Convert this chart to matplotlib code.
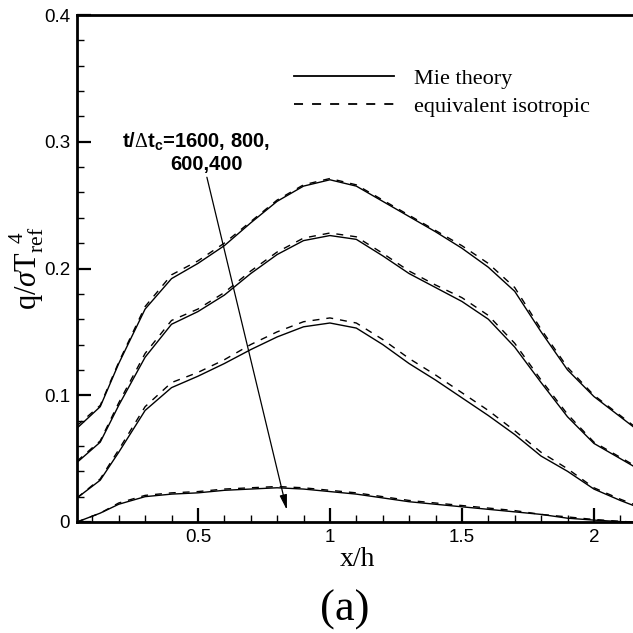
import matplotlib
matplotlib.use("Agg")
import matplotlib.pyplot as plt
from matplotlib.ticker import MultipleLocator

plt.rcParams['mathtext.fontset'] = 'custom'
plt.rcParams['mathtext.rm'] = 'Liberation Serif'
plt.rcParams['mathtext.it'] = 'Liberation Serif:italic'
plt.rcParams['mathtext.sf'] = 'Liberation Sans'
plt.rcParams['mathtext.bf'] = 'Liberation Sans:bold'

x = [0.042, 0.13, 0.2, 0.3, 0.4, 0.5, 0.6, 0.7, 0.8, 0.9, 1.0, 1.1, 1.2, 1.3,
     1.4, 1.5, 1.6, 1.7, 1.8, 1.9, 2.0, 2.1, 2.15]

mie_1600 = [0.074, 0.091, 0.125, 0.168, 0.192, 0.204, 0.218, 0.236, 0.253, 0.265, 0.270, 0.265,
            0.253, 0.241, 0.229, 0.216, 0.201, 0.182, 0.150, 0.120, 0.099, 0.083, 0.075]
iso_1600 = [0.076, 0.092, 0.126, 0.170, 0.195, 0.206, 0.220, 0.237, 0.254, 0.266, 0.271, 0.266,
            0.254, 0.242, 0.230, 0.218, 0.204, 0.185, 0.152, 0.122, 0.100, 0.084, 0.076]

mie_800 = [0.047, 0.063, 0.092, 0.130, 0.156, 0.166, 0.179, 0.196, 0.211, 0.222, 0.226, 0.223,
           0.210, 0.196, 0.185, 0.174, 0.160, 0.138, 0.110, 0.083, 0.062, 0.050, 0.044]
iso_800 = [0.048, 0.064, 0.094, 0.133, 0.159, 0.168, 0.181, 0.198, 0.213, 0.224, 0.228, 0.225,
           0.212, 0.198, 0.187, 0.177, 0.163, 0.141, 0.112, 0.085, 0.063, 0.051, 0.045]

mie_600 = [0.019, 0.033, 0.055, 0.088, 0.106, 0.115, 0.125, 0.136, 0.146, 0.154, 0.157, 0.153,
           0.140, 0.125, 0.112, 0.098, 0.084, 0.069, 0.052, 0.040, 0.026, 0.017, 0.013]
iso_600 = [0.019, 0.034, 0.057, 0.091, 0.110, 0.118, 0.128, 0.140, 0.150, 0.158, 0.161, 0.157,
           0.144, 0.129, 0.116, 0.102, 0.088, 0.072, 0.055, 0.042, 0.027, 0.018, 0.014]

mie_400 = [0.000, 0.007, 0.014, 0.020, 0.022, 0.023, 0.025, 0.026, 0.027, 0.026, 0.024, 0.022,
           0.019, 0.016, 0.014, 0.012, 0.010, 0.008, 0.006, 0.003, 0.0015, 0.0003, 0.000]
iso_400 = [0.000, 0.007, 0.015, 0.021, 0.023, 0.024, 0.026, 0.027, 0.028, 0.027, 0.025, 0.023,
           0.020, 0.017, 0.015, 0.013, 0.011, 0.009, 0.006, 0.004, 0.002, 0.0005, 0.000]

mie_series = [mie_1600, mie_800, mie_600, mie_400]
iso_series = [iso_1600, iso_800, iso_600, iso_400]

x_ticks = [0.5, 1, 1.5, 2]
x_tick_labels = ['0.5', '1', '1.5', '2']
y_ticks = [0, 0.1, 0.2, 0.3, 0.4]
y_tick_labels = ['0', '0.1', '0.2', '0.3', '0.4']

fig = plt.figure(figsize=(6.33, 6.33), dpi=100)
ax = fig.add_axes([77/633, 111/633, 560/633, 507/633])

dash = (0, (5, 5))
for i, (m, s) in enumerate(zip(mie_series, iso_series)):
    ax.plot(x, m, color='black', lw=1.0, label='Mie theory' if i == 0 else None)
    ax.plot(x, s, color='black', lw=1.0, ls=dash,
            label='equivalent isotropic' if i == 0 else None)

ax.set_xlim(0.042, 0.042 + 560/264)
ax.set_ylim(0, 0.4)
ax.xaxis.set_minor_locator(MultipleLocator(0.1))
ax.yaxis.set_minor_locator(MultipleLocator(0.02))
ax.set_xticks(x_ticks)
ax.set_xticklabels(x_tick_labels)
ax.set_yticks(y_ticks)
ax.set_yticklabels(y_tick_labels)
ax.tick_params(which='both', direction='in', top=False, right=False,
               labelsize=13.5, width=1.6)
ax.tick_params(which='major', length=10, pad=5)
ax.tick_params(which='minor', length=5, width=1.0)
for lab in ax.get_xticklabels() + ax.get_yticklabels():
    lab.set_family('Liberation Sans')
for sp in ['left', 'bottom', 'top']:
    ax.spines[sp].set_linewidth(2.0)
ax.spines['right'].set_visible(False)

ax.set_xlabel('x/h', family='Liberation Serif', fontsize=20, labelpad=1)
ax.set_ylabel(r'q/$\sigma$T$_{\rm ref}^{\;\;4}$', family='Liberation Serif', fontsize=22)
ax.yaxis.set_label_coords(-31/560, 0.5)

leg = ax.legend(loc='upper left', bbox_to_anchor=(217/560, 0.895), frameon=False,
                prop={'family': 'Liberation Serif', 'size': 16},
                handlelength=4.5, handletextpad=0.9, labelspacing=0.35,
                borderaxespad=0, borderpad=0)
for ln in leg.get_lines():
    ln.set_linewidth(1.3)

ax.annotate('', xy=(0.837, 0.0095), xytext=(0.534, 0.272),
            arrowprops=dict(arrowstyle='-|>,head_length=0.9,head_width=0.22',
                            color='black', lw=0.9, shrinkA=0, shrinkB=0))
ax.text(0.212, 0.296, r't/$\Delta$t$_{\mathbf{c}}$=1600, 800,',
        family='Liberation Sans', fontweight='bold', fontsize=14.5,
        ha='left', va='baseline')
ax.text(0.394, 0.278, '600,400',
        family='Liberation Sans', fontweight='bold', fontsize=14.5,
        ha='left', va='baseline')

fig.text(345/633, 1 - 610/633, '(a)', family='Liberation Serif', fontsize=32,
         ha='center', va='center')

fig.savefig('out.png', dpi=100)
